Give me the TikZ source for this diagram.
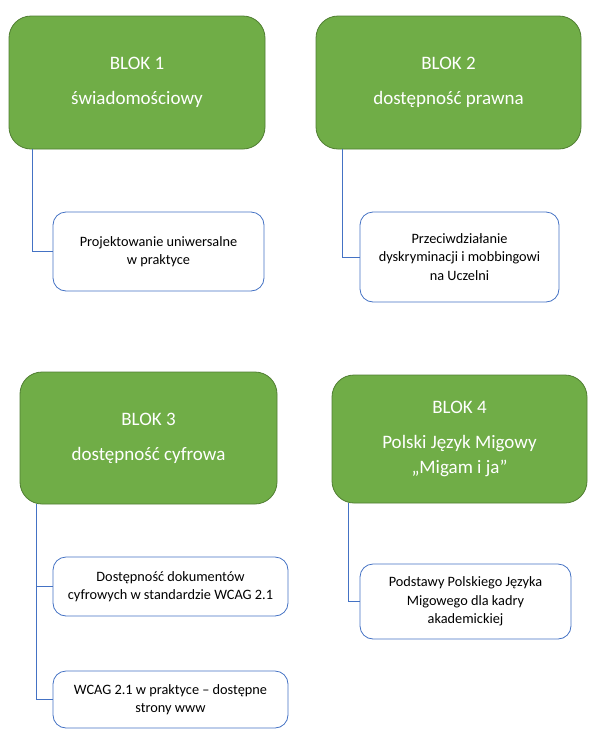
\documentclass[tikz,border=0pt]{standalone}
\usepackage{fontspec}
\setmainfont{Carlito}
\definecolor{gfill}{HTML}{70AD47}
\definecolor{gline}{HTML}{507E32}
\definecolor{bline}{HTML}{4472C4}
\begin{document}
\begin{tikzpicture}[x=1pt,y=-1pt,
  blok/.style={draw=gline,fill=gfill,rounded corners=22pt,text=white,align=center,
    font=\fontsize{19}{25}\selectfont,inner sep=0pt,line width=0.8pt},
  item/.style={draw=bline,fill=white,rounded corners=13pt,text=black,align=center,
    font=\fontsize{14.3}{18.3}\selectfont,inner sep=0pt,line width=0.8pt},
  conn/.style={draw=bline,line width=0.8pt}]
\useasboundingbox (0,0) rectangle (598,745);
\node[blok,minimum width=256pt,minimum height=133pt] (b1) at (137,82.5) {BLOK 1\\[10pt]świadomościowy};
\node[blok,minimum width=265pt,minimum height=133pt] (b2) at (448.5,82.5) {BLOK 2\\[10pt]dostępność prawna};
\node[blok,minimum width=257pt,minimum height=132pt] (b3) at (148.5,438) {BLOK 3\\[10pt]dostępność cyfrowa};
\node[blok,minimum width=255pt,minimum height=128pt] (b4) at (459.5,439) {BLOK 4\\[10pt]Polski Język Migowy\\„Migam i ja”};
\node[item,minimum width=211pt,minimum height=79pt] (s1) at (158.5,251.5) {Projektowanie uniwersalne\\w praktyce};
\node[item,minimum width=199pt,minimum height=90pt] (s2) at (459.5,257) {Przeciwdziałanie\\dyskryminacji i mobbingowi\\na Uczelni};
\node[item,minimum width=235pt,minimum height=59pt] (s3a) at (170.5,586.5) {Dostępność dokumentów\\cyfrowych w standardzie WCAG 2.1};
\node[item,minimum width=235pt,minimum height=57pt] (s3b) at (170.5,699.5) {WCAG 2.1 w praktyce – dostępne\\strony www};
\node[item,minimum width=211pt,minimum height=75pt] (s4) at (465.5,601.5) {Podstawy Polskiego Języka\\Migowego dla kadry\\akademickiej};
\draw[conn] ([xshift=24pt]b1.south west) |- (s1.west);
\draw[conn] ([xshift=27pt]b2.south west) |- (s2.west);
\draw[conn] ([xshift=17pt]b3.south west) |- (s3a.west);
\draw[conn] ([xshift=17pt]b3.south west) |- (s3b.west);
\draw[conn] ([xshift=17pt]b4.south west) |- (s4.west);
\end{tikzpicture}
\end{document}
